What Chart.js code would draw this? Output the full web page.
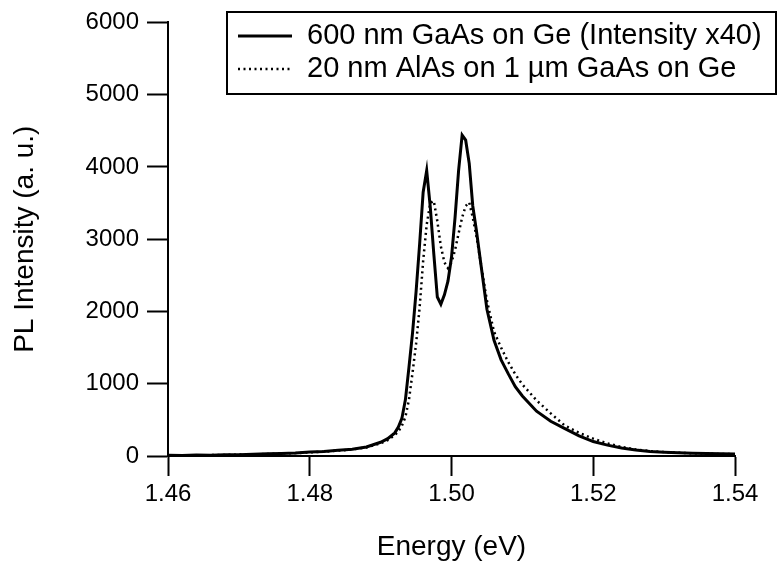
<!DOCTYPE html>
<html><head><meta charset="utf-8">
<script src="https://cdn.jsdelivr.net/npm/chart.js@4"></script>
<style>html,body{margin:0;padding:0;background:#fff}canvas{display:block}</style>
</head><body>
<canvas id="c" width="783" height="569"></canvas>
<script>
// Photon energy (eV)
const energy = [1.46,1.462,1.464,1.466,1.468,1.47,1.472,1.474,1.476,1.478,1.48,1.482,1.484,1.486,1.488,
  1.49,1.491,1.492,
  1.4925,1.493,1.4935,1.494,1.4945,1.495,1.4955,1.496,1.4965,1.497,1.4975,1.498,1.4985,1.499,1.4995,1.5,1.5005,1.501,1.5015,1.502,1.5025,1.503,1.5035,
  1.504,1.505,1.506,1.507,1.508,1.509,1.51,
  1.512,1.514,1.516,1.518,1.52,1.522,1.524,1.526,1.528,1.53,1.532,1.534,1.536,1.538,1.54];
// 600 nm GaAs on Ge (Intensity x40)
const gaasOnGe = [12,8,14,10,18,16,25,30,35,42,55,62,80,95,125,
  190,240,320,
  400,520,780,1230,1700,2270,2930,3650,3950,3450,2800,2200,2100,2230,2420,2750,3300,3950,4440,4370,4050,3460,3130,
  2760,2030,1600,1330,1140,960,830,
  620,480,380,280,200,150,110,82,62,52,45,38,33,30,28];
// 20 nm AlAs on 1 µm GaAs on Ge
const alasOnGaas = [5,10,6,12,15,20,22,28,36,40,50,60,75,90,118,
  175,220,290,
  340,420,540,780,1150,1550,2050,2700,3200,3500,3530,3250,2900,2680,2600,2680,2850,3080,3300,3460,3510,3300,3050,
  2750,2150,1720,1500,1300,1130,990,
  770,590,420,320,240,175,125,90,68,55,45,38,32,28,25];
const seriesLabels = ['600 nm GaAs on Ge (Intensity x40)', '20 nm AlAs on 1 \u00b5m GaAs on Ge'];
const xTicks = [1.46,1.48,1.50,1.52,1.54];
const yTicks = [0,1000,2000,3000,4000,5000,6000];

const FONT = "'Liberation Sans', Arial, Helvetica, sans-serif";

const legendBox = {
  id: 'legendBox',
  afterDraw(chart) {
    const ctx = chart.ctx;
    ctx.save();
    ctx.strokeStyle = '#000';
    ctx.lineWidth = 2;
    ctx.strokeRect(227, 12, 549, 82);
    const rows = [36, 69];
    chart.data.datasets.forEach((ds, i) => {
      ctx.beginPath();
      ctx.lineWidth = ds.borderWidth;
      ctx.setLineDash(ds.borderDash || []);
      ctx.moveTo(238, rows[i]);
      ctx.lineTo(292, rows[i]);
      ctx.stroke();
      ctx.setLineDash([]);
      ctx.fillStyle = '#000';
      ctx.font = '29px ' + FONT;
      ctx.textBaseline = 'middle';
      ctx.textAlign = 'left';
      ctx.fillText(ds.label, 307, rows[i]);
    });
    ctx.restore();
  }
};

new Chart(document.getElementById('c'), {
  type: 'line',
  data: {
    datasets: [
      { label: seriesLabels[0], data: energy.map((e, i) => ({x: e, y: gaasOnGe[i]})),
        borderColor: '#000', borderWidth: 3, pointRadius: 0, tension: 0, fill: false },
      { label: seriesLabels[1], data: energy.map((e, i) => ({x: e, y: alasOnGaas[i]})),
        borderColor: '#000', borderWidth: 2.5, borderDash: [2, 3.5], pointRadius: 0, tension: 0, fill: false }
    ]
  },
  options: {
    responsive: false,
    animation: false,
    layout: { padding: { left: 0, right: 48, top: 22, bottom: 0 } },
    plugins: { legend: { display: false }, tooltip: { enabled: false } },
    scales: {
      x: {
        type: 'linear', min: 1.46, max: 1.54,
        afterBuildTicks: s => { s.ticks = xTicks.map(v => ({value: v})); },
        afterFit: s => { s.height = 113; },
        grid: { drawOnChartArea: false, drawTicks: true, tickLength: 20, tickWidth: 2, tickColor: '#000' },
        border: { display: true, color: '#000', width: 2 },
        ticks: { color: '#000', font: { family: FONT, size: 24 }, padding: 4, maxRotation: 0,
          callback: v => Number(v).toFixed(2) },
        title: { display: true, text: 'Energy (eV)', color: '#000', font: { family: FONT, size: 28 }, padding: { top: 0, bottom: 5 } }
      },
      y: {
        type: 'linear', min: 0, max: 6000,
        afterBuildTicks: s => { s.ticks = yTicks.map(v => ({value: v})); },
        afterFit: s => { s.width = 168; },
        grid: { drawOnChartArea: false, drawTicks: true, tickLength: 21, tickWidth: 2, tickColor: '#000' },
        border: { display: true, color: '#000', width: 2 },
        ticks: { color: '#000', font: { family: FONT, size: 24 }, padding: 8, callback: v => String(v) },
        title: { display: true, text: 'PL Intensity (a. u.)', color: '#000', font: { family: FONT, size: 28 }, padding: { top: 8, bottom: 0 } }
      }
    }
  },
  plugins: [legendBox]
});
</script>
</body></html>
